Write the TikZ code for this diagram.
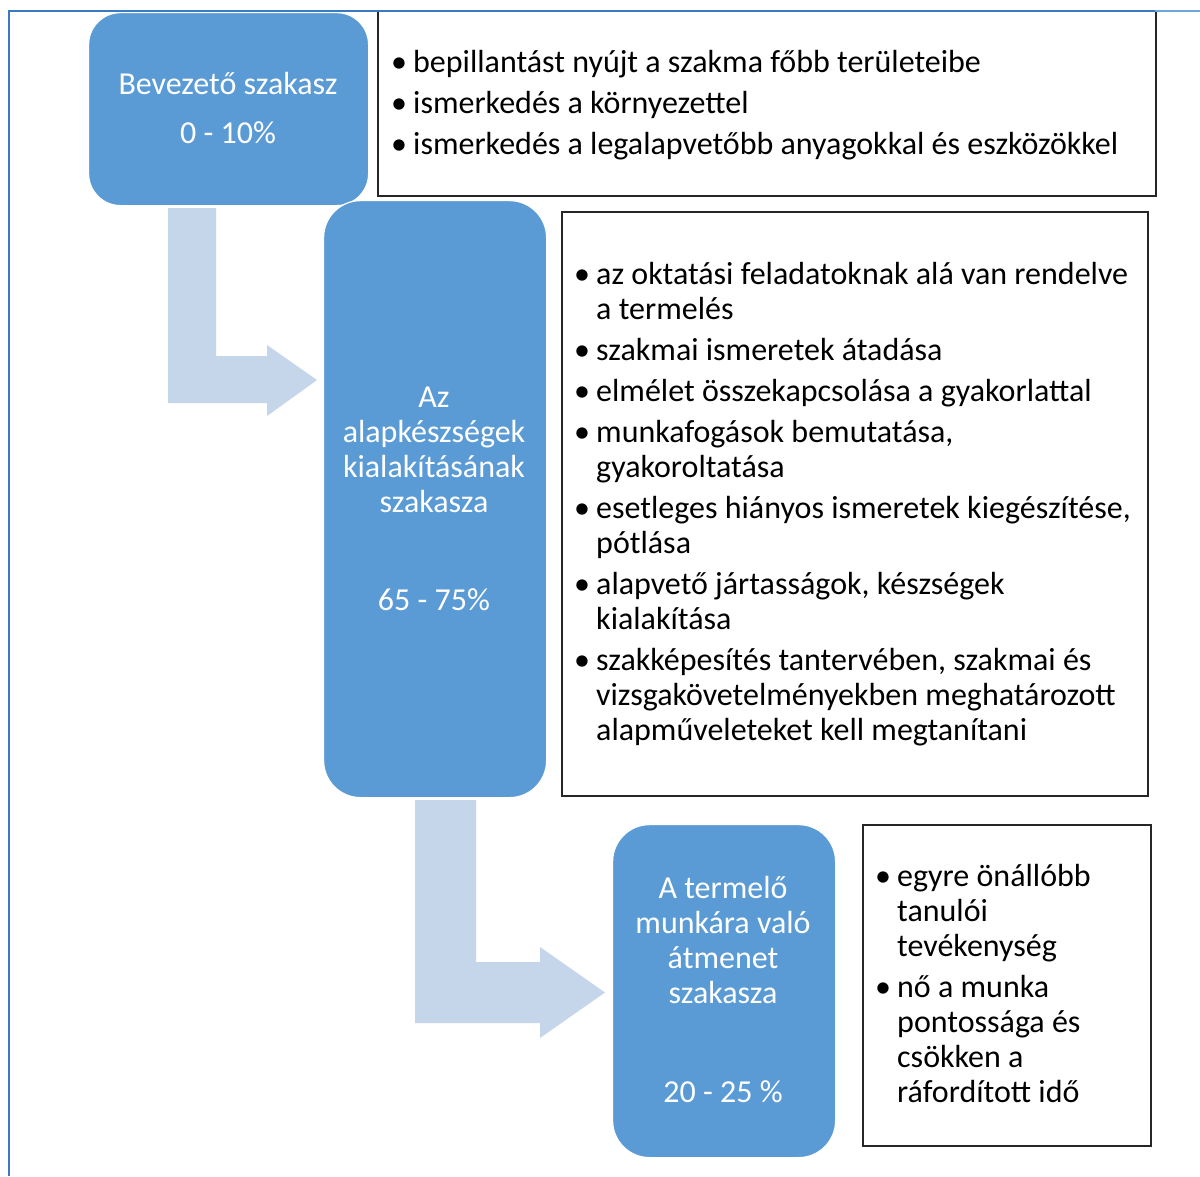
\documentclass[tikz,border=0pt]{standalone}
\usepackage{fontspec}
\setmainfont{Carlito}
\definecolor{phasefill}{HTML}{5B9BD5}
\definecolor{flowfill}{HTML}{C5D5EA}
\definecolor{framedark}{HTML}{3A7AC2}
\definecolor{framelight}{HTML}{6FA6DA}
\setlength{\parskip}{0pt}

% bulleted paragraphs with a hanging indent
\newcommand{\bulitem}{\noindent\hangindent=22pt\relax\hangafter=1\relax\makebox[22pt][l]{\textbullet}\ignorespaces}
\newcommand{\bulnext}{\par\vspace{6pt}\bulitem}

\begin{document}
\begin{tikzpicture}[x=1pt,y=-1pt,
  phase/.style={draw=white, line width=1.2pt, fill=phasefill, rounded corners=#1,
    inner sep=0pt, anchor=north west},
  phasetext/.style={text=white, align=center, anchor=base,
    font=\fontsize{32}{35}\selectfont},
  notebox/.style={draw=black!85, line width=1.6pt, fill=white, inner sep=0pt,
    anchor=north west},
  notetext/.style={anchor=base west, align=flush left, inner sep=0pt,
    font=\fontsize{32}{35}\selectfont},
  flow/.style={fill=flowfill, draw=none}]

\useasboundingbox (0,0) rectangle (1200,1176);
\fill[white] (0,0) rectangle (1200,1176);

% note boxes
\node[notebox, minimum width=778pt, minimum height=185pt] (n1) at (377,10) {};
\node[notebox, minimum width=586pt, minimum height=584pt] (n2) at (561,211) {};
\node[notebox, minimum width=288pt, minimum height=321pt] (n3) at (862,824) {};

% bent arrows between the phases
\fill[flow] (168,208) -- (216,208) -- (216,356) -- (267,356) -- (267,345)
  -- (317,380) -- (267,416) -- (267,403) -- (168,403) -- cycle;
\fill[flow] (415,800) -- (476,800) -- (476,962) -- (540,962) -- (540,947)
  -- (605,992.5) -- (540,1038) -- (540,1023) -- (415,1023) -- cycle;

% phases
\node[phase=32pt, minimum width=280pt, minimum height=193pt] (p1) at (88,12) {};
\node[phase=37pt, minimum width=223pt, minimum height=597pt] (p2) at (323,200) {};
\node[phase=37pt, minimum width=223pt, minimum height=333pt] (p3) at (612,824) {};

\node[phasetext] (t1) at (228,143) {Bevezető szakasz\\[14pt]0 - 10\%};
\node[phasetext] (t2) at (434,610) {Az\\alapkészségek\\kialakításának\\szakasza\\[63pt]65 - 75\%};
\node[phasetext] (t3) at (723,1102) {A termelő\\munkára való\\átmenet\\szakasza\\[64pt]20 - 25 \%};

% notes
\node[notetext, text width=800pt] (l1) at (391,72) {%
  \bulitem bepillantást nyújt a szakma főbb területeibe
  \bulnext ismerkedés a környezettel
  \bulnext ismerkedés a legalapvetőbb anyagokkal és eszközökkel\par};
\node[notetext, text width=620pt] (l2) at (574,284) {%
  \bulitem az oktatási feladatoknak alá van rendelve\newline a termelés
  \bulnext szakmai ismeretek átadása
  \bulnext elmélet összekapcsolása a gyakorlattal
  \bulnext munkafogások bemutatása,\newline gyakoroltatása
  \bulnext esetleges hiányos ismeretek kiegészítése,\newline pótlása
  \bulnext alapvető jártasságok, készségek\newline kialakítása
  \bulnext szakképesítés tantervében, szakmai és\newline vizsgakövetelményekben meghatározott\newline alapműveleteket kell megtanítani\par};
\node[notetext, text width=300pt] (l3) at (875,886) {%
  \bulitem egyre önállóbb\newline tanulói\newline tevékenység
  \bulnext nő a munka\newline pontossága és\newline csökken a\newline ráfordított idő\par};

% canvas frame
\draw[framedark, line width=2pt] (8.5,1176) -- (8.5,10.5) -- (1155,10.5);
\draw[framelight, line width=2pt] (1155,10.5) -- (1200,10.5);
\end{tikzpicture}
\end{document}
